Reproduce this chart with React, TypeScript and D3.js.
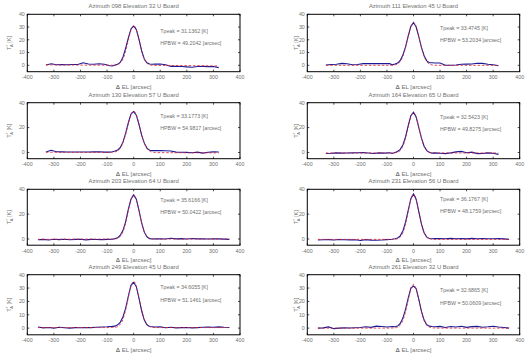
import React from "react";
import * as d3 from "d3";

const TITLES = [
  "Azimuth 098 Elevation 32 U Board",
  "Azimuth 111 Elevation 45 U Board",
  "Azimuth 130 Elevation 57 U Board",
  "Azimuth 164 Elevation 65 U Board",
  "Azimuth 203 Elevation 64 U Board",
  "Azimuth 231 Elevation 56 U Board",
  "Azimuth 249 Elevation 45 U Board",
  "Azimuth 261 Elevation 32 U Board",
];
const TPEAK = ["31.1362", "33.4745", "33.1773", "32.5423", "35.6166", "36.1767", "34.6055", "32.6865"];
const HPBW = ["49.2042", "53.2034", "54.9817", "49.8275", "50.0422", "48.1759", "51.1461", "50.0609"];

const X_TICKS = [-400, -300, -200, -100, 0, 100, 200, 300, 400];
const Y_TICKS_10 = [0, 10, 20, 30, 40];
const Y_TICKS_20 = [0, 20, 40];
const PANEL_Y_TICKS = [Y_TICKS_10, Y_TICKS_10, Y_TICKS_20, Y_TICKS_20, Y_TICKS_20, Y_TICKS_20, Y_TICKS_10, Y_TICKS_10];

// measured offsets (arcsec)
const X_A = [-330, -310, -290, -270, -250, -230, -210, -190, -170, -150, -130, -110, -90,
  -80, -70, -60, -50, -40, -30, -20, -10, 0, 10, 20, 30, 40, 50, 60, 70, 80,
  100, 120, 140, 160, 180, 200, 220, 240, 260, 280, 300, 320];
const X_B = [-360, -340, -320, -300, -280, -260, -240, -220, -200, -180, -160, -140, -120, -100,
  -80, -70, -60, -50, -40, -30, -20, -10, 0, 10, 20, 30, 40, 50, 60, 70, 80,
  100, 120, 140, 160, 180, 200, 220, 240, 260, 280, 300, 320, 340, 360];
const FIT_X_A = [-330, -90, -80, -70, -60, -50, -40, -30, -20, -10, 0, 10, 20, 30, 40, 50, 60, 70, 80, 90, 320];
const FIT_X_B = [-360, -100, -80, -70, -60, -50, -40, -30, -20, -10, 0, 10, 20, 30, 40, 50, 60, 70, 80, 100, 360];

// measured antenna temperature [K]
const DATA_1 = [0.3, 1.2, 0.5, 0.6, 0.5, 0.6, 0.7, 2.0, 1.0, 0.8, 1.2, 0.9, -0.3,
  -0.5, 0.3, 0.8, 2.5, 6.5, 13.5, 21.5, 28.5, 30.8, 28.0, 20.5, 11.5, 5.0, 2.0, 1.0, 0.8, 0.9,
  1.0, 0.5, -0.8, -0.7, -0.9, -1.2, -1.5, -0.9, -0.8, -1.0, -0.9, -1.8];
const DATA_2 = [0.3, 0.7, 0.8, 1.5, 1.2, 0.5, 0.6, 1.3, 1.4, 1.3, 1.4, 1.3, 1.3,
  0.4, 1.0, 1.8, 3.8, 8.0, 14.5, 23.0, 30.5, 33.5, 30.0, 22.5, 14.0, 7.5, 3.5, 2.0, 2.0, 1.8,
  1.8, 0.1, 0.0, 0.3, 0.8, 0.9, 1.0, 1.6, 1.5, 0.8, 0.4, -0.4];
const DATA_3 = [0.4, 1.8, 0.6, 0.5, 0.4, 0.4, 0.4, 0.4, 0.4, 0.5, 0.6, 0.3, 0.3,
  0.6, 1.2, 2.0, 4.0, 8.5, 15.5, 24.0, 30.8, 32.8, 30.0, 22.5, 14.0, 7.5, 3.5, 1.8, 1.5, 1.5,
  1.5, 1.4, 1.2, 0.3, 0.2, 0.1, -0.2, 0.3, -0.5, 0.2, 0.5, 0.4];
const DATA_4 = [-0.8, -0.6, -0.3, -0.5, -0.4, -0.3, -0.2, -0.1, -0.4, -0.8, -0.3, -0.5, -0.2,
  -0.8, 0.0, 0.8, 2.5, 6.0, 12.5, 21.5, 29.5, 32.3, 28.5, 20.0, 11.5, 5.0, 1.5, 0.0, -0.5, -0.3,
  -0.6, -0.9, -0.3, 0.5, 0.9, -0.2, 0.3, -0.9, -0.8, -0.3, -0.6, -1.5];
const DATA_5 = [-0.6, -0.3, -0.8, -0.2, -0.5, -0.2, -0.6, -0.3, -0.2, -0.7, -0.3, -0.4, -0.5, -0.3,
  -0.2, 0.3, 1.0, 3.0, 7.0, 14.0, 24.0, 32.0, 35.5, 32.0, 23.0, 13.0, 5.5, 1.8, 0.3, 0.0, 0.2,
  0.1, 0.0, 0.6, 0.1, 0.3, 0.0, 0.4, 0.1, 0.2, 0.0, 0.2, 0.1, -0.1, -0.3];
const DATA_6 = [-0.8, -0.6, -0.5, -0.8, -0.4, -0.6, -0.7, -0.6, -1.2, -0.5, -0.9, -1.0, -0.8, -0.5,
  -0.2, 0.2, 0.8, 2.5, 6.5, 13.5, 23.0, 32.5, 36.3, 32.0, 22.0, 12.0, 5.0, 1.5, 0.4, 0.2, 0.3,
  0.4, 0.2, 0.5, 0.2, 0.3, 0.1, 0.5, 0.2, 0.3, 0.2, 0.2, 0.3, 0.1, -0.3];
const DATA_7 = [0.8, 0.2, 0.5, 0.0, 0.6, 0.3, 0.0, 0.4, 0.3, 0.5, 0.4, 0.6, 0.8, 1.0,
  1.3, 1.5, 2.5, 4.5, 8.5, 15.0, 24.0, 32.0, 34.3, 31.0, 22.5, 13.0, 6.0, 2.5, 1.2, 1.0, 0.8,
  0.9, 0.3, 0.6, 0.2, 0.4, 0.5, 0.2, 0.4, 0.6, 0.8, 0.7, 0.9, 0.6, 0.5];
const DATA_8 = [0.0, 0.2, 0.9, -0.4, 0.0, 0.2, 0.1, 0.3, 0.5, 1.0, 0.6, 1.5, 1.2, 0.8,
  1.2, 1.0, 1.5, 3.5, 7.5, 14.0, 22.5, 30.0, 31.5, 29.5, 21.5, 12.5, 6.0, 2.5, 1.5, 1.2, 1.0,
  1.3, 0.5, 1.2, 0.8, 1.4, 0.6, 1.1, 1.3, 0.7, 1.0, 1.4, 0.8, 0.5, 0.0];

// gaussian fit curves [K]
const FIT_1 = [0.4, 0.1, 0.1, 0.2, 0.6, 1.9, 5.1, 11.2, 19.8, 27.9, 31.2, 27.8, 19.6, 11.0, 4.9, 1.7, 0.4, 0.0, -0.1, -0.1, -0.5];
const FIT_2 = [0.0, 0.0, 0.1, 0.3, 1.0, 2.9, 7.0, 13.9, 22.6, 30.4, 33.5, 30.4, 22.6, 13.9, 7.0, 2.9, 1.0, 0.3, 0.1, 0.0, 0.0];
const FIT_3 = [0.2, 0.1, 0.2, 0.5, 1.3, 3.5, 7.8, 14.6, 23.1, 30.4, 33.3, 30.3, 23.0, 14.5, 7.6, 3.3, 1.1, 0.3, 0.0, -0.1, -0.3];
const FIT_4 = [-0.4, -0.4, -0.4, -0.3, 0.2, 1.6, 5.0, 11.5, 20.4, 28.7, 32.1, 28.7, 20.4, 11.5, 5.0, 1.6, 0.2, -0.3, -0.4, -0.4, -0.4];
const FIT_5 = [-0.3, -0.1, -0.1, 0.1, 0.6, 2.1, 6.0, 13.0, 22.8, 31.8, 35.5, 31.8, 22.8, 13.0, 6.0, 2.1, 0.6, 0.1, 0.0, 0.0, 0.0];
const FIT_6 = [-0.3, -0.3, -0.3, -0.2, 0.2, 1.5, 5.1, 12.0, 22.1, 31.8, 35.9, 31.8, 22.1, 12.0, 5.1, 1.5, 0.2, -0.2, -0.3, -0.3, -0.3];
const FIT_7 = [0.4, 0.4, 0.5, 0.6, 1.2, 2.9, 6.7, 13.7, 23.0, 31.5, 35.0, 31.5, 23.0, 13.7, 6.7, 2.9, 1.2, 0.6, 0.4, 0.4, 0.4];
const FIT_8 = [0.0, 0.0, 0.1, 0.2, 0.7, 2.2, 5.7, 12.2, 21.1, 29.4, 32.7, 29.4, 21.1, 12.2, 5.7, 2.2, 0.7, 0.2, 0.1, 0.0, 0.0];

const DATA = [DATA_1, DATA_2, DATA_3, DATA_4, DATA_5, DATA_6, DATA_7, DATA_8];
const FITS = [FIT_1, FIT_2, FIT_3, FIT_4, FIT_5, FIT_6, FIT_7, FIT_8];
const DATA_X = [X_A, X_A, X_A, X_A, X_B, X_B, X_B, X_B];
const FIT_X = [FIT_X_A, FIT_X_A, FIT_X_A, FIT_X_A, FIT_X_B, FIT_X_B, FIT_X_B, FIT_X_B];

const W = 529;
const H = 356;
const COLS: [number, number][] = [[27.3, 240], [307.3, 519.7]];
const ROWS: [number, number][] = [[14.3, 71.7], [102.7, 158.7], [189.3, 245.2], [274.7, 334.8]];
const YLABEL_X = [9.5, 296.3];
const FONT = "'Liberation Sans', Arial, Helvetica, sans-serif";
const TEXT_COLOR = "#707070";

function Panel({ i }: { i: number }) {
  const col = i % 2;
  const row = Math.floor(i / 2);
  const [x0, x1] = COLS[col];
  const [y0, y1] = ROWS[row];
  const x = d3.scaleLinear().domain([-400, 400]).range([x0, x1]);
  const y = d3.scaleLinear().domain([-5, 40]).range([y1, y0]);
  const dataPts = DATA_X[i].map((v, k) => [v, DATA[i][k]] as [number, number]);
  const fitPts = FIT_X[i].map((v, k) => [v, FITS[i][k]] as [number, number]);
  const dataLine = d3.line<[number, number]>().x((d) => x(d[0])).y((d) => y(d[1]));
  const fitLine = d3
    .line<[number, number]>()
    .x((d) => x(d[0]))
    .y((d) => y(d[1]))
    .curve(d3.curveMonotoneX);
  const tp = parseFloat(TPEAK[i]);
  const tl = 2;
  const cx = (x0 + x1) / 2;
  const cy = (y0 + y1) / 2;
  return (
    <g fontFamily={FONT}>
      <text x={cx} y={y0 - 6} textAnchor="middle" fontSize={5.9} fill={TEXT_COLOR}>
        {TITLES[i]}
      </text>
      <path d={dataLine(dataPts) || ""} fill="none" stroke="#1a1a96" strokeWidth={1.1} />
      <path d={fitLine(fitPts) || ""} fill="none" stroke="#e0202a" strokeWidth={0.8} strokeDasharray="2.5,1.8" />
      <rect x={x0} y={y0} width={x1 - x0} height={y1 - y0} fill="none" stroke="#000" strokeWidth={1} />
      {X_TICKS.map((t) => (
        <g key={"x" + t}>
          <line x1={x(t)} x2={x(t)} y1={y1} y2={y1 - tl} stroke="#000" strokeWidth={0.7} />
          <line x1={x(t)} x2={x(t)} y1={y0} y2={y0 + tl} stroke="#000" strokeWidth={0.7} />
          <text x={x(t)} y={y1 + 7.5} textAnchor="middle" fontSize={5.3} fill={TEXT_COLOR}>
            {t}
          </text>
        </g>
      ))}
      {PANEL_Y_TICKS[i].map((t) => (
        <g key={"y" + t}>
          <line x1={x0} x2={x0 + tl} y1={y(t)} y2={y(t)} stroke="#000" strokeWidth={0.7} />
          <line x1={x1} x2={x1 - tl} y1={y(t)} y2={y(t)} stroke="#000" strokeWidth={0.7} />
          <text x={x0 - 2.5} y={y(t)} dy="0.35em" textAnchor="end" fontSize={5.3} fill={TEXT_COLOR}>
            {t}
          </text>
        </g>
      ))}
      <text x={cx} y={y1 + 17} textAnchor="middle" fontSize={6} fill={TEXT_COLOR}>
        <tspan fontWeight="bold">Δ</tspan> EL [arcsec]
      </text>
      <text
        transform={`translate(${YLABEL_X[col]},${cy}) rotate(-90)`}
        textAnchor="middle"
        dy="0.35em"
        fontSize={5.6}
        fill={TEXT_COLOR}
      >
        T<tspan dy={-2.2} fontSize={4}>*</tspan>
        <tspan dx={-2} dy={4} fontSize={4}>A</tspan>
        <tspan dy={-1.8}>{"  [K]"}</tspan>
      </text>
      <text x={x(100)} y={y(tp - 4.2)} dy="0.35em" fontSize={5.3} fill={TEXT_COLOR}>
        {`Tpeak = ${TPEAK[i]} [K]`}
      </text>
      <text x={x(100)} y={y(tp - 13.8)} dy="0.35em" fontSize={5.3} fill={TEXT_COLOR}>
        {`HPBW = ${HPBW[i]} [arcsec]`}
      </text>
    </g>
  );
}

export default function App() {
  return (
    <svg
      width={W}
      height={H}
      viewBox={`0 0 ${W} ${H}`}
      style={{ position: "absolute", left: 0, top: 0, background: "#fff" }}
    >
      <rect x={0} y={0} width={W} height={H} fill="#fff" />
      {TITLES.map((_, i) => (
        <Panel key={i} i={i} />
      ))}
    </svg>
  );
}
